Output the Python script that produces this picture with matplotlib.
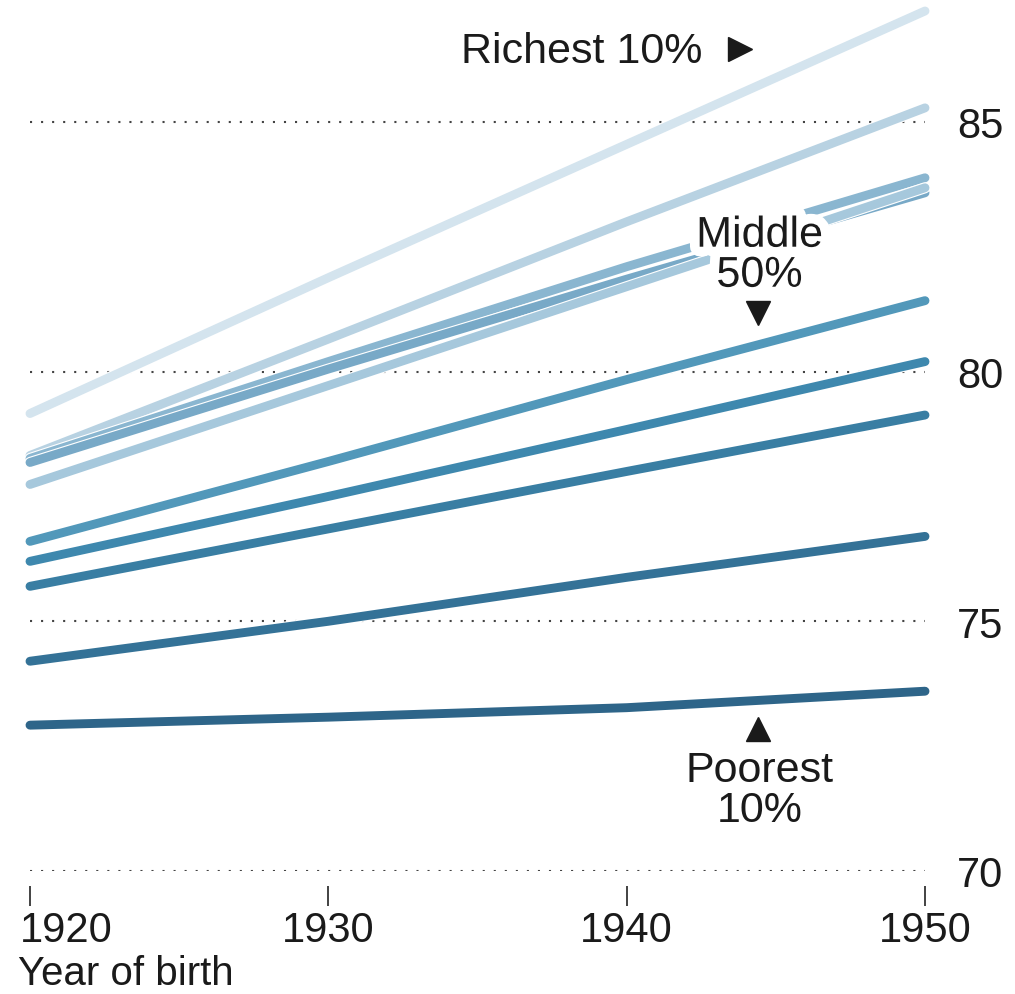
import matplotlib
matplotlib.use('Agg')
import matplotlib.patheffects as pe
from matplotlib import pyplot as plt
from matplotlib.transforms import ScaledTranslation

plt.rcParams['font.family'] = ['Liberation Sans', 'DejaVu Sans']

# 出生年份
years = [1920, 1930, 1940, 1950]

# 各收入十分位的预期寿命（从富到穷）
richest_10 = [79.16, 81.88, 84.55, 87.22]
decile_9 = [78.32, 80.65, 83.00, 85.28]
decile_8 = [78.26, 80.20, 82.10, 83.88]
decile_7 = [78.18, 80.05, 81.85, 83.58]
decile_6 = [77.74, 79.72, 81.70, 83.68]
decile_5 = [76.60, 78.20, 79.84, 81.42]
decile_4 = [76.20, 77.50, 78.84, 80.20]
decile_3 = [75.70, 76.85, 78.00, 79.13]
decile_2 = [74.20, 75.00, 75.88, 76.70]
poorest_10 = [72.92, 73.08, 73.27, 73.60]

series_list = [richest_10, decile_9, decile_8, decile_7, decile_6,
               decile_5, decile_4, decile_3, decile_2, poorest_10]
color_list = ['#d4e4ee', '#b8d2e2', '#8ab6d0', '#78a9c7', '#a6c8dc',
              '#5298ba', '#3e88ae', '#397ea3', '#347297', '#2e6589']

y_ticks = [70, 75, 80, 85]
x_ticks = [1920, 1930, 1940, 1950]

fig = plt.figure(figsize=(10.15, 9.95), dpi=100)
ax = fig.add_axes([30 / 1015, 123 / 995, 895 / 1015, 869 / 995])
ax.set_xlim(1920, 1950)
ax.set_ylim(70, 87.4)

# 虚线网格
for yv in y_ticks:
    ax.axhline(yv, color='#444444', lw=1.5, ls=(0, (1, 4.3)), zorder=1)

lw = 6.4
for s, c in zip(series_list, color_list):
    ax.plot(years, s, color=c, lw=lw, solid_capstyle='round', solid_joinstyle='round',
            clip_on=False, zorder=2,
            path_effects=[pe.Stroke(linewidth=lw + 1.6, foreground='white'), pe.Normal()])

for sp in ax.spines.values():
    sp.set_visible(False)
ax.spines['bottom'].set_position(('outward', 11))

ax.set_xticks(x_ticks)
ax.set_xticklabels([str(x) for x in x_ticks])
ax.tick_params(axis='x', length=14.4, width=1.2, color='#222222', pad=3,
               labelsize=30, labelcolor='#1a1a1a')
lbl = ax.get_xticklabels()[0]
lbl.set_horizontalalignment('left')
lbl.set_transform(lbl.get_transform() + ScaledTranslation(-10 / 100, 0, fig.dpi_scale_trans))

ax.yaxis.tick_right()
ax.set_yticks(y_ticks)
ax.set_yticklabels([str(y) for y in y_ticks])
ax.tick_params(axis='y', length=0, pad=23, labelsize=30, labelcolor='#1a1a1a')

halo = [pe.withStroke(linewidth=14, foreground='white')]
txt_kw = dict(fontsize=31, color='#1a1a1a', zorder=5)

ax.text(1938.5, 86.42, 'Richest 10%', ha='center', va='center', **txt_kw)
ax.plot([1943.8], [86.46], marker='>', ms=17, color='#1a1a1a', clip_on=False, zorder=5)

ax.text(1944.45, 82.32, 'Middle\n50%', ha='center', va='center', linespacing=1.0,
        path_effects=halo, **txt_kw)
ax.plot([1944.4], [81.18], marker='v', ms=17, color='#1a1a1a', zorder=5)

ax.plot([1944.4], [72.84], marker='^', ms=17, color='#1a1a1a', zorder=5)
ax.text(1944.45, 71.62, 'Poorest\n10%', ha='center', va='center', linespacing=1.0, **txt_kw)

fig.text(18 / 1015, 1 - 974 / 995, 'Year of birth', ha='left', va='center',
         fontsize=29, color='#1a1a1a')

fig.savefig('out.png', dpi=100)
